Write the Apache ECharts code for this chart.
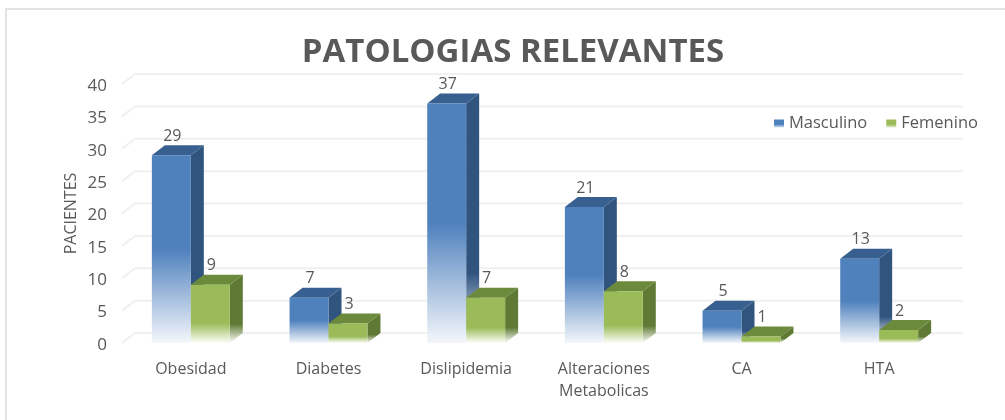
<!DOCTYPE html>
<html>
<head>
<meta charset="utf-8">
<style>html,body{margin:0;padding:0;background:#fff}#c{width:1005px;height:420px}</style>
<script src="https://cdn.jsdelivr.net/npm/echarts@6/dist/echarts.min.js"></script>
</head>
<body>
<div id="c"></div>
<script>
const categories = ['Obesidad', 'Diabetes', 'Dislipidemia', 'Alteraciones\nMetabolicas', 'CA', 'HTA'];
const masculino = [29, 7, 37, 21, 5, 13];
const femenino = [9, 3, 7, 8, 1, 2];
const yTicks = [0, 5, 10, 15, 20, 25, 30, 35, 40];

const FONT = '"Open Sans", sans-serif';
const TEXT = '#595959';
const GRIDC = '#f0f0f0';
const DX = 13, DY = -10;

const BLUE = {front: '#4f81bd', top: '#375f8f', side: '#31547f', end: '#f4f7fb', fs: 0.5, ss: 0.72};
const GREEN = {front: '#9bbb59', top: '#6b8a3c', side: '#5f7a34', end: '#fdfef9', fs: 0.66, ss: 0.72};

function fade(c, start, end) {
  return new echarts.graphic.LinearGradient(0, 0, 0, 1, [
    {offset: 0, color: c}, {offset: start, color: c}, {offset: 1, color: end}
  ]);
}

function barRenderer(st, dir) {
  return function (params, api) {
    const idx = api.value(0), val = api.value(1);
    const t = api.coord([idx, val]), b = api.coord([idx, 0]);
    const w = api.size([1, 0])[0] * 0.283;
    const x0 = dir < 0 ? t[0] - w : t[0], x1 = x0 + w;
    const y0 = t[1], y1 = b[1];
    return {
      type: 'group',
      children: [
        {type: 'polygon', shape: {points: [[x1, y0], [x1 + DX, y0 + DY], [x1 + DX, y1 + DY], [x1, y1]]},
          style: {fill: fade(st.side, st.ss, '#ffffff')}},
        {type: 'polygon', shape: {points: [[x0, y0], [x0 + DX, y0 + DY], [x1 + DX, y0 + DY], [x1, y0]]},
          style: {fill: st.top}},
        {type: 'rect', shape: {x: x0, y: y0, width: w, height: y1 - y0},
          style: {fill: fade(st.front, st.fs, st.end)}},
        {type: 'text', style: {text: String(val), x: (x0 + x1) / 2 + 1, y: y0 + DY - 9,
          align: 'center', verticalAlign: 'middle', fill: TEXT, font: '16px ' + FONT}}
      ]
    };
  };
}

function wallRenderer(params, api) {
  const y = api.coord([0, api.value(1)])[1];
  const cs = params.coordSys;
  return {
    type: 'polyline',
    shape: {points: [[cs.x, y], [cs.x + DX, y + DY], [cs.x + cs.width + DX + 2, y + DY]]},
    style: {fill: 'none', stroke: GRIDC, lineWidth: 2}
  };
}

const chart = echarts.init(document.getElementById('c'), null, {renderer: 'canvas'});
chart.setOption({
  animation: false,
  backgroundColor: '#ffffff',
  title: {
    text: 'PATOLOGIAS RELEVANTES', left: 508, top: 31, textAlign: 'center',
    textStyle: {color: TEXT, fontFamily: FONT, fontWeight: 'bold', fontSize: 33}
  },
  legend: {
    left: 774, top: 115, padding: 0, itemWidth: 10, itemHeight: 8, itemGap: 19, icon: 'rect',
    textStyle: {color: TEXT, fontFamily: FONT, fontSize: 16.5},
    data: [
      {name: 'Masculino', itemStyle: {color: fade(BLUE.front, 0.6, '#dbe6f2')}},
      {name: 'Femenino', itemStyle: {color: fade(GREEN.front, 0.6, '#e6eed5')}}
    ]
  },
  grid: {left: 122, right: 57, top: 84, bottom: 77},
  xAxis: {
    type: 'category', data: categories,
    axisLine: {show: false}, axisTick: {show: false}, splitLine: {show: false},
    axisLabel: {color: TEXT, fontFamily: FONT, fontSize: 16, margin: 15, lineHeight: 22, interval: 0}
  },
  yAxis: {
    type: 'value', min: 0, max: 40, interval: 5,
    name: 'PACIENTES', nameLocation: 'middle', nameGap: 43, nameRotate: 90, nameMoveOverlap: false,
    nameTextStyle: {color: TEXT, fontFamily: FONT, fontSize: 16},
    axisLine: {show: false}, axisTick: {show: false}, splitLine: {show: false},
    axisLabel: {color: TEXT, fontFamily: FONT, fontSize: 17, margin: 15, verticalAlign: 'top', lineHeight: 4}
  },
  graphic: [
    {type: 'polyline', silent: true, z: -1,
      shape: {points: [[6, 420], [6, 9], [1005, 9]]},
      style: {fill: 'none', stroke: '#e2e2e2', lineWidth: 2}}
  ],
  series: [
    {type: 'custom', name: 'wall', silent: true, clip: false, z: 1,
      renderItem: wallRenderer, data: yTicks.map(t => [0, t])},
    {type: 'custom', name: 'Masculino', clip: false, z: 2,
      itemStyle: {color: BLUE.front},
      renderItem: barRenderer(BLUE, -1), data: masculino.map((v, i) => [i, v])},
    {type: 'custom', name: 'Femenino', clip: false, z: 3,
      itemStyle: {color: GREEN.front},
      renderItem: barRenderer(GREEN, 1), data: femenino.map((v, i) => [i, v])}
  ]
});
</script>
</body>
</html>
